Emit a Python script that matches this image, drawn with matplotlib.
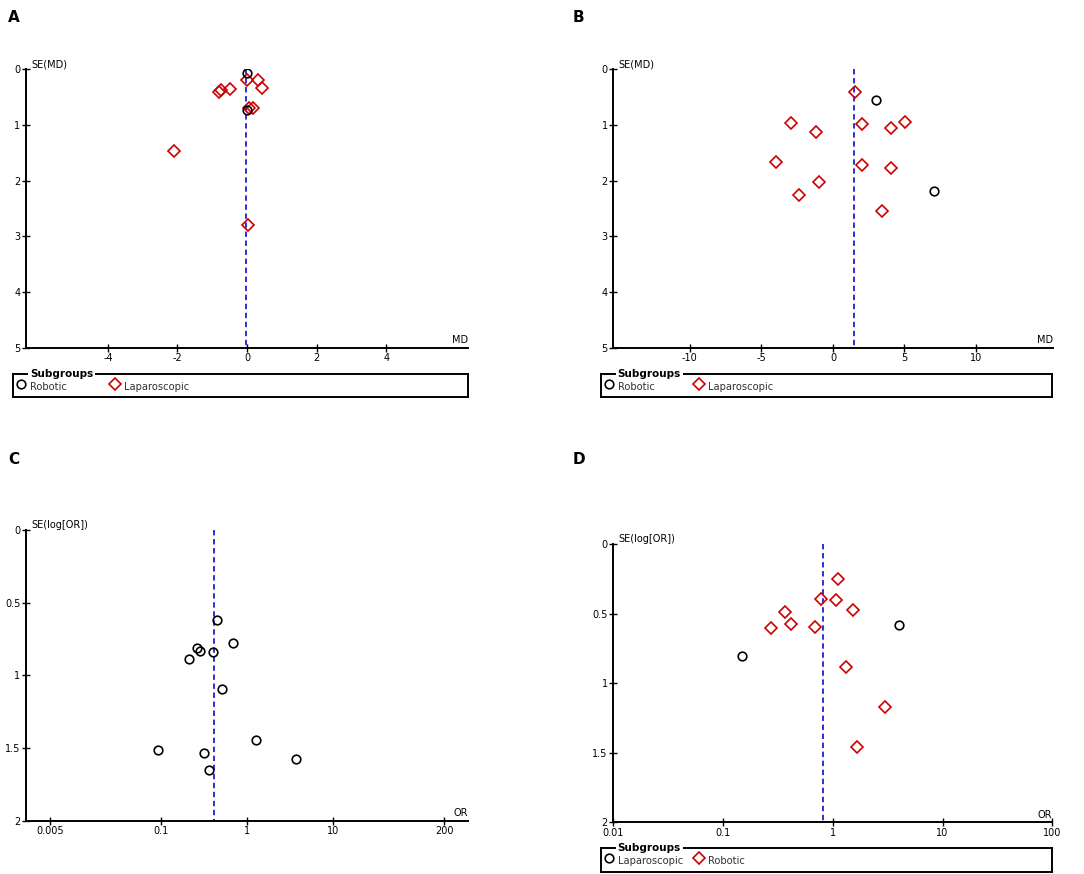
import matplotlib
matplotlib.use("Agg")
import matplotlib.pyplot as plt

plt.rcParams["font.family"] = ["DejaVu Sans"]
plt.rcParams["axes.unicode_minus"] = False

W, H = 1084, 874

# Panel A: SE(MD) vs MD
a_rob_md = [0.01, 0.01]
a_rob_se = [0.06, 0.73]
a_lap_md = [0.01, 0.31, 0.44, -0.81, -0.76, -0.50, 0.05, 0.16, -2.09, 0.02]
a_lap_se = [0.19, 0.19, 0.33, 0.40, 0.37, 0.35, 0.69, 0.69, 1.47, 2.80]
a_pooled = -0.03

# Panel B
b_rob_md = [3.0, 7.04]
b_rob_se = [0.55, 2.18]
b_lap_md = [1.51, -2.95, -1.21, 2.0, 4.03, 5.06, -3.99, 2.0, 4.03, -0.98, -2.35, 3.43]
b_lap_se = [0.41, 0.96, 1.13, 0.98, 1.05, 0.95, 1.66, 1.72, 1.77, 2.02, 2.26, 2.54]
b_pooled = 1.49

# Panel C: SE(log[OR]) vs OR
c_or = [0.443, 0.68, 0.263, 0.28, 0.397, 0.208, 0.515, 1.27, 0.0906, 0.318, 3.73, 0.357]
c_se = [0.62, 0.78, 0.81, 0.835, 0.84, 0.89, 1.094, 1.447, 1.516, 1.532, 1.578, 1.654]
c_pooled = 0.408

# Panel D
d_lap_or = [4.03, 0.149]
d_lap_se = [0.58, 0.806]
d_rob_or = [1.11, 0.78, 1.06, 1.52, 0.37, 0.417, 0.272, 0.685, 1.31, 3.0, 1.67]
d_rob_se = [0.247, 0.396, 0.40, 0.475, 0.49, 0.571, 0.60, 0.592, 0.88, 1.168, 1.458]
d_pooled = 0.822

RED = "#cc0000"
BLUE = "#2020d0"

fig = plt.figure(figsize=(W / 100, H / 100), dpi=100)


def px_axes(x0, y0, x1, y1):
    return fig.add_axes([x0 / W, 1 - y1 / H, (x1 - x0) / W, (y1 - y0) / H])


def style(ax, ylab, xlab, ymax, yticks, ylabels):
    for s in ["top", "right"]:
        ax.spines[s].set_visible(False)
    for s in ["left", "bottom"]:
        ax.spines[s].set_linewidth(1.4)
    ax.set_ylim(ymax, 0)
    ax.set_yticks(yticks)
    ax.set_yticklabels(ylabels)
    ax.tick_params(direction="inout", length=6, width=1, labelsize=7, pad=1)
    ax.text(0.012, 1.0, ylab, transform=ax.transAxes, fontsize=7, ha="left", va="bottom")
    ax.text(1.0, 0.008, xlab, transform=ax.transAxes, fontsize=7, ha="right", va="bottom")


def circles(ax, x, y):
    ax.plot(x, y, "o", ms=6.2, mfc="none", mec="black", mew=1.2, zorder=3)


def diamonds(ax, x, y):
    ax.plot(x, y, "D", ms=6.0, mfc="none", mec=RED, mew=1.2, zorder=3)


def vline(ax, x, ymax):
    ax.plot([x, x], [0, ymax], color=BLUE, lw=1.3, ls=(0, (3, 2)), zorder=2)


def legend_box(x0, y0, x1, y1, items):
    lg = px_axes(x0, y0, x1, y1)
    lg.set_xlim(0, x1 - x0)
    lg.set_ylim(y1 - y0, 0)
    lg.set_xticks([])
    lg.set_yticks([])
    for s in lg.spines.values():
        s.set_linewidth(1.4)
    lg.text(17, 0, "Subgroups", fontsize=7.5, fontweight="bold", ha="left", va="center",
            bbox=dict(facecolor="white", edgecolor="none", pad=1.5), clip_on=False)
    for (mx, marker, color, label) in items:
        lg.plot([mx], [10], marker, ms=6.2 if marker == "o" else 6.0,
                mfc="none", mec=color, mew=1.2)
        lg.text(mx + 9, 13, label, fontsize=7.2, color="#333333", ha="left", va="center")


# A
axA = px_axes(26, 69.3, 468.3, 347.7)
axA.set_xlim(-6.35, 6.35)
axA.set_xticks([-4, -2, 0, 2, 4])
style(axA, "SE(MD)", "MD", 5, [0, 1, 2, 3, 4, 5], ["0", "1", "2", "3", "4", "5"])
vline(axA, a_pooled, 5)
diamonds(axA, a_lap_md, a_lap_se)
circles(axA, a_rob_md, a_rob_se)
legend_box(13, 374, 468, 397, [(8, "o", "black", "Robotic"), (102, "D", RED, "Laparoscopic")])

# B
axB = px_axes(613.3, 69.3, 1053.3, 347.7)
axB.set_xlim(-15.35, 15.4)
axB.set_xticks([-10, -5, 0, 5, 10])
style(axB, "SE(MD)", "MD", 5, [0, 1, 2, 3, 4, 5], ["0", "1", "2", "3", "4", "5"])
vline(axB, b_pooled, 5)
diamonds(axB, b_lap_md, b_lap_se)
circles(axB, b_rob_md, b_rob_se)
legend_box(600.7, 374, 1052.3, 397, [(8, "o", "black", "Robotic"), (98, "D", RED, "Laparoscopic")])

# C
axC = px_axes(26, 530, 468.3, 820.7)
axC.set_xscale("log")
axC.set_xlim(10 ** -2.58, 10 ** 2.582)
axC.set_xticks([0.005, 0.1, 1, 10, 200])
axC.set_xticklabels(["0.005", "0.1", "1", "10", "200"])
axC.minorticks_off()
style(axC, "SE(log[OR])", "OR", 2, [0, 0.5, 1, 1.5, 2], ["0", "0.5", "1", "1.5", "2"])
vline(axC, c_pooled, 2)
circles(axC, c_or, c_se)

# D
axD = px_axes(613.3, 544.3, 1052.3, 822.3)
axD.set_xscale("log")
axD.set_xlim(0.01, 100)
axD.set_xticks([0.01, 0.1, 1, 10, 100])
axD.set_xticklabels(["0.01", "0.1", "1", "10", "100"])
axD.minorticks_off()
style(axD, "SE(log[OR])", "OR", 2, [0, 0.5, 1, 1.5, 2], ["0", "0.5", "1", "1.5", "2"])
vline(axD, d_pooled, 2)
diamonds(axD, d_rob_or, d_rob_se)
circles(axD, d_lap_or, d_lap_se)
legend_box(600.7, 848.3, 1052.3, 871.7, [(8, "o", "black", "Laparoscopic"), (98, "D", RED, "Robotic")])

# panel letters
for lab, x, y in [("A", 8, 18), ("B", 573, 18), ("C", 8, 460), ("D", 573, 460)]:
    fig.text(x / W, 1 - y / H, lab, fontsize=11, fontweight="bold", ha="left", va="center")

fig.savefig("out.png", dpi=100)
